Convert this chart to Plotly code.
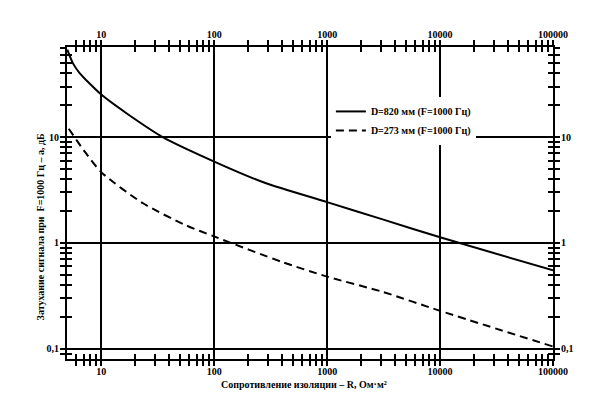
import math
import plotly.graph_objects as go

# ---- data ----
r_820 = [5, 5.6, 6.4, 10, 16.7, 35, 100, 280, 1000, 3100, 10000, 100000]
a_820 = [67, 50, 40.5, 25.2, 16.8, 10, 5.87, 3.7, 2.43, 1.67, 1.13, 0.55]

r_273 = [5.15, 7, 10, 23.4, 56, 100, 400, 1000, 3100, 10000, 100000]
a_273 = [12, 7.5, 4.66, 2.37, 1.47, 1.15, 0.66, 0.48, 0.345, 0.228, 0.105]

name_820 = "D=820 мм (F=1000 Гц)"
name_273 = "D=273 мм (F=1000 Гц)"

x_major = [10, 100, 1000, 10000, 100000]
x_major_text = ["10", "100", "1000", "10000", "100000"]
x_minor = [6, 7, 8, 9] + [m * 10 ** k for k in range(1, 5) for m in range(2, 10)]

y_major = [0.1, 1, 10]
y_major_text = ["0,1", "1", "10"]
y_minor = [0.09] + [m * 10 ** k for k in (-1, 0) for m in range(2, 10)] + [20, 30, 40, 50, 60, 70]

x_title = "Сопротивление изоляции – R, Ом·м²"
y_title = "Затухание сигнала при  F=1000 Гц – a, дБ"

x_range = [math.log10(4.97), math.log10(100000)]
y_range = [math.log10(0.08), math.log10(71)]

FONT = "Liberation Serif"
tf = dict(family=FONT, size=10, color="black", weight="bold")

fig = go.Figure()
fig.add_trace(go.Scatter(x=r_820, y=a_820, mode="lines", name=name_820,
                         line=dict(color="black", width=2, shape="spline", smoothing=0.7)))
fig.add_trace(go.Scatter(x=r_273, y=a_273, mode="lines", name=name_273,
                         line=dict(color="black", width=2, dash="8px,5px", shape="spline", smoothing=0.7)))
for ax in ("2", "3", "4"):
    fig.add_trace(go.Scatter(x=[], y=[], xaxis="x" + ax, yaxis="y" + ax, showlegend=False))


def xax(side, ticks, labels, grid, line, overlay, standoff=0):
    d = dict(type="log", range=x_range, side=side, ticks=ticks, ticklen=5, tickwidth=1.5,
             tickcolor="black", tickvals=x_major, ticktext=x_major_text,
             showticklabels=labels, tickfont=tf, showgrid=grid, gridcolor="black", gridwidth=1.5,
             showline=line, linecolor="black", linewidth=2, ticklabelstandoff=standoff,
             minor=dict(tickvals=x_minor, ticks=ticks, ticklen=5, tickwidth=1.5,
                        tickcolor="black", showgrid=False),
             anchor="y", fixedrange=True)
    if overlay:
        d["overlaying"] = "x"
    return d


def yax(side, ticks, labels, grid, line, overlay, standoff=0):
    d = dict(type="log", range=y_range, side=side, ticks=ticks, ticklen=5, tickwidth=1.5,
             tickcolor="black", tickvals=y_major, ticktext=y_major_text,
             showticklabels=labels, tickfont=tf, showgrid=grid, gridcolor="black", gridwidth=1.5,
             showline=line, linecolor="black", linewidth=2, ticklabelstandoff=standoff,
             minor=dict(tickvals=y_minor, ticks=ticks, ticklen=5, tickwidth=1.5,
                        tickcolor="black", showgrid=False),
             anchor="x", fixedrange=True)
    if overlay:
        d["overlaying"] = "y"
    return d


fig.update_layout(
    width=610, height=400,
    margin=dict(l=59, r=65, t=39, b=49, autoexpand=False),
    paper_bgcolor="white", plot_bgcolor="white",
    font=dict(family=FONT, color="black"),
    xaxis=xax("bottom", "outside", False, True, True, False),
    xaxis2=xax("top", "outside", False, False, True, True),
    xaxis3=xax("bottom", "inside", True, False, False, True, standoff=5),
    xaxis4=xax("top", "inside", True, False, False, True, standoff=6),
    yaxis=yax("left", "outside", False, True, True, False),
    yaxis2=yax("right", "outside", False, False, True, True),
    yaxis3=yax("left", "inside", True, False, False, True, standoff=7),
    yaxis4=yax("right", "inside", True, False, False, True, standoff=7),
    showlegend=True,
    legend=dict(x=0.543, y=0.84, xanchor="left", yanchor="top", bgcolor="white",
                borderwidth=0, font=dict(family=FONT, size=10, color="black", weight="bold"),
                tracegroupgap=0),
    annotations=[
        dict(text=x_title, xref="paper", yref="paper", x=0.488, y=-0.083,
             showarrow=False, xanchor="center", yanchor="middle",
             font=dict(family=FONT, size=10, color="black", weight="bold")),
        dict(text=y_title, xref="paper", yref="paper", x=-0.0556, y=0.425, textangle=-90,
             showarrow=False, xanchor="center", yanchor="middle",
             font=dict(family=FONT, size=10, color="black", weight="bold")),
    ],
)

fig.write_html("out.html")
